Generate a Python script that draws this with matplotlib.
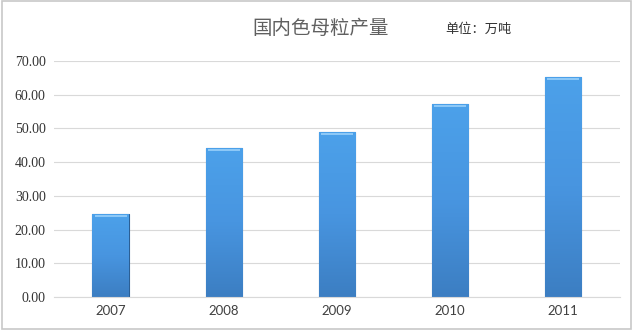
import numpy as np
from matplotlib import pyplot as plt
from matplotlib.patches import Rectangle
from matplotlib.colors import LinearSegmentedColormap

# data
years = ['2007', '2008', '2009', '2010', '2011']
output = [24.6, 44.2, 48.9, 57.2, 65.3]
yticks = [0, 10, 20, 30, 40, 50, 60, 70]

title = '国内色母粒产量'
unit = '单位：万吨'

fig = plt.figure(figsize=(6.33, 3.30), dpi=100)
ax = fig.add_axes([0.0853, 0.1, 0.894, 0.715])

x = np.arange(len(years))
bars = ax.bar(x, output, width=0.32, color='#4290dc', edgecolor='#2b5f95', linewidth=0.8, zorder=2)

# vertical gradient inside each bar
grad = np.linspace(0, 1, 256).reshape(-1, 1)
cmap = LinearSegmentedColormap.from_list('b', ['#3c7ec2', '#4895e0', '#4ca1ea'])
for b in bars:
    x0, w, h = b.get_x(), b.get_width(), b.get_height()
    im = ax.imshow(grad, cmap=cmap, aspect='auto', extent=[x0, x0 + w, 0, h],
                   origin='lower', zorder=2.5)
    im.set_clip_path(b)
    # light bevel on top
    ax.add_patch(Rectangle((x0 + w * 0.06, h - 0.9), w * 0.88, 0.6, color='#8cc8f7',
                           zorder=3, linewidth=0))

ax.set_xlim(-0.5, len(years) - 0.5)
ax.set_ylim(0, 70)
ax.set_yticks(yticks)
ax.set_yticklabels(['%.2f' % v for v in yticks], family='Liberation Serif', fontsize=10, color='#333333')
ax.set_xticks(x)
ax.set_xticklabels(years, family='Lato', fontsize=9.5, color='#404040')
ax.tick_params(length=0, pad=6)
ax.grid(axis='y', color='#d9d9d9', linewidth=0.8, zorder=0)
for s in ['top', 'right', 'left']:
    ax.spines[s].set_visible(False)
ax.spines['bottom'].set_color('#d9d9d9')

fig.text(0.507, 0.915, title, family=['Noto Sans CJK SC', 'DejaVu Sans'], fontsize=14,
         color='#606060', ha='center', va='center', fontweight='light')
fig.text(0.755, 0.91, unit, family=['Noto Sans CJK SC', 'DejaVu Sans'], fontsize=9.5,
         color='#333333', ha='center', va='center')

# figure border
fig.patches.append(Rectangle((0.003, 0.003), 0.994, 0.994, transform=fig.transFigure,
                             fill=False, edgecolor='#c8c8c8', linewidth=1.2))

fig.savefig('out.png', dpi=100)
